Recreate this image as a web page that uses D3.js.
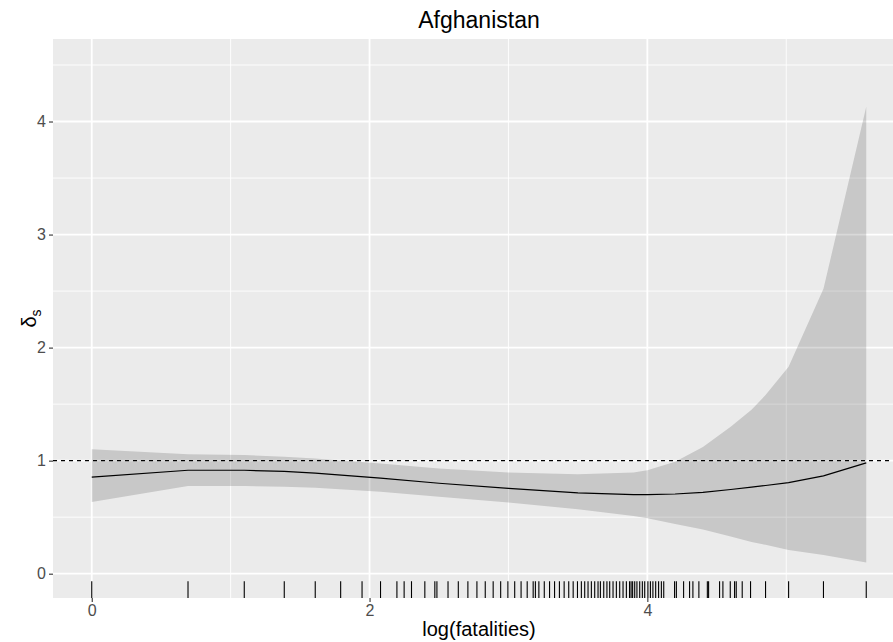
<!DOCTYPE html>
<html>
<head>
<meta charset="utf-8">
<script src="https://cdn.jsdelivr.net/npm/d3@7"></script>
<style>
  html, body { margin: 0; padding: 0; background: #fff; }
  svg { display: block; font-family: "Liberation Sans", Arial, sans-serif; }
</style>
</head>
<body>
<svg id="chart" width="893" height="642"></svg>
<script>
// ---- data ----
const title = "Afghanistan";
const xTicks = [0, 2, 4];
const xMinor = [1, 3, 5];
const yTicks = [0, 1, 2, 3, 4];
const yMinor = [0.5, 1.5, 2.5, 3.5, 4.5];
const refLine = 1;

// smooth estimate: x knots, mean, lower and upper bounds
const curveX     = [0, 0.693, 1.099, 1.386, 1.609, 2.079, 2.5, 3.0, 3.5, 3.9, 4.0, 4.2, 4.4, 4.6, 4.75, 4.851, 5.017, 5.268, 5.576];
const curveMean  = [0.855, 0.915, 0.915, 0.905, 0.89, 0.845, 0.80, 0.755, 0.715, 0.70, 0.70, 0.705, 0.72, 0.745, 0.765, 0.78, 0.805, 0.865, 0.98];
const curveLower = [0.635, 0.775, 0.775, 0.77, 0.76, 0.725, 0.68, 0.63, 0.57, 0.51, 0.49, 0.44, 0.39, 0.33, 0.28, 0.255, 0.21, 0.165, 0.10];
const curveUpper = [1.10, 1.057, 1.05, 1.035, 1.02, 0.975, 0.93, 0.895, 0.88, 0.895, 0.915, 0.99, 1.12, 1.3, 1.45, 1.58, 1.83, 2.52, 4.13];

// rug: observed log(fatalities)
const rugValues = [0, 0.693, 1.098, 1.386, 1.609, 1.792, 1.946, 2.079, 2.197, 2.249, 2.302, 2.398, 2.470, 2.485,
  2.565, 2.639, 2.708, 2.773, 2.833, 2.890, 2.944, 2.996, 3.045, 3.091, 3.135, 3.178, 3.194, 3.219, 3.258,
  3.296, 3.332, 3.367, 3.401, 3.434, 3.466, 3.497, 3.525, 3.549, 3.573, 3.597, 3.621, 3.645, 3.662, 3.686,
  3.709, 3.729, 3.753, 3.777, 3.801, 3.825, 3.849, 3.872, 3.883, 3.894, 3.909, 3.925, 3.945, 3.964, 3.981,
  4.004, 4.022, 4.040, 4.060, 4.081, 4.101, 4.118, 4.196, 4.209, 4.261, 4.304, 4.328, 4.371, 4.432, 4.441,
  4.520, 4.544, 4.597, 4.628, 4.640, 4.683, 4.743, 4.851, 5.017, 5.268, 5.576];

// ---- layout ----
const svg = d3.select("#chart");
const panel = { left: 53, top: 39, right: 905, bottom: 598 };

const x = d3.scaleLinear().domain([-0.279, 5.855]).range([panel.left, panel.right]);
const y = d3.scaleLinear().domain([-0.215, 4.73]).range([panel.bottom, panel.top]);

svg.append("defs").append("clipPath").attr("id", "clip")
  .append("rect").attr("x", panel.left).attr("y", panel.top)
  .attr("width", panel.right - panel.left).attr("height", panel.bottom - panel.top);

svg.append("rect")
  .attr("x", panel.left).attr("y", panel.top)
  .attr("width", panel.right - panel.left).attr("height", panel.bottom - panel.top)
  .attr("fill", "#EBEBEB");

const grid = svg.append("g");
grid.selectAll(".ymin").data(yMinor).join("line")
  .attr("x1", panel.left).attr("x2", panel.right)
  .attr("y1", d => y(d)).attr("y2", d => y(d))
  .attr("stroke", "#fff").attr("stroke-width", 0.9);
grid.selectAll(".xmin").data(xMinor).join("line")
  .attr("y1", panel.top).attr("y2", panel.bottom)
  .attr("x1", d => x(d)).attr("x2", d => x(d))
  .attr("stroke", "#fff").attr("stroke-width", 0.9);
grid.selectAll(".ymaj").data(yTicks).join("line")
  .attr("x1", panel.left).attr("x2", panel.right)
  .attr("y1", d => y(d)).attr("y2", d => y(d))
  .attr("stroke", "#fff").attr("stroke-width", 1.8);
grid.selectAll(".xmaj").data(xTicks).join("line")
  .attr("y1", panel.top).attr("y2", panel.bottom)
  .attr("x1", d => x(d)).attr("x2", d => x(d))
  .attr("stroke", "#fff").attr("stroke-width", 1.8);

const pts = curveX.map((v, i) => ({ x: v, m: curveMean[i], lo: curveLower[i], hi: curveUpper[i] }));
const plot = svg.append("g").attr("clip-path", "url(#clip)");

plot.append("path").datum(pts)
  .attr("d", d3.area().x(d => x(d.x)).y0(d => y(d.lo)).y1(d => y(d.hi)))
  .attr("fill", "#000").attr("fill-opacity", 0.15);

plot.append("line")
  .attr("x1", panel.left).attr("x2", panel.right)
  .attr("y1", y(refLine)).attr("y2", y(refLine))
  .attr("stroke", "#000").attr("stroke-width", 1.1).attr("stroke-dasharray", "4,4");

plot.append("path").datum(pts)
  .attr("d", d3.line().x(d => x(d.x)).y(d => y(d.m)))
  .attr("fill", "none").attr("stroke", "#000").attr("stroke-width", 1.2);

const rugLen = (panel.bottom - panel.top) * 0.03;
plot.selectAll(".rug").data(rugValues).join("line")
  .attr("x1", d => x(d)).attr("x2", d => x(d))
  .attr("y1", panel.bottom).attr("y2", panel.bottom - rugLen)
  .attr("stroke", "#000").attr("stroke-width", 1.1);

// axes
const xAxis = svg.append("g").attr("transform", `translate(0,${panel.bottom})`)
  .call(d3.axisBottom(x).tickValues(xTicks).tickSize(4).tickPadding(3).tickFormat(d3.format("d")));
const yAxis = svg.append("g").attr("transform", `translate(${panel.left},0)`)
  .call(d3.axisLeft(y).tickValues(yTicks).tickSize(4).tickPadding(3).tickFormat(d3.format("d")));
[xAxis, yAxis].forEach(a => {
  a.select(".domain").remove();
  a.selectAll(".tick line").attr("stroke", "#333333").attr("stroke-width", 1.1);
  a.selectAll(".tick text").attr("fill", "#4D4D4D").attr("font-size", 16)
    .attr("font-family", "Liberation Sans, Arial, sans-serif");
});

svg.append("text").attr("x", (panel.left + panel.right) / 2).attr("y", 28)
  .attr("text-anchor", "middle").attr("font-size", 23).attr("fill", "#000").text(title);

svg.append("text").attr("x", (panel.left + panel.right) / 2).attr("y", 636)
  .attr("text-anchor", "middle").attr("font-size", 20).attr("fill", "#000").text("log(fatalities)");

const yt = svg.append("text")
  .attr("transform", `translate(36,${(panel.top + panel.bottom) / 2}) rotate(-90)`)
  .attr("text-anchor", "middle").attr("font-size", 20).attr("fill", "#000");
yt.append("tspan").text("δ");
yt.append("tspan").attr("font-size", 14).attr("dy", 5).text("s");
</script>
</body>
</html>
